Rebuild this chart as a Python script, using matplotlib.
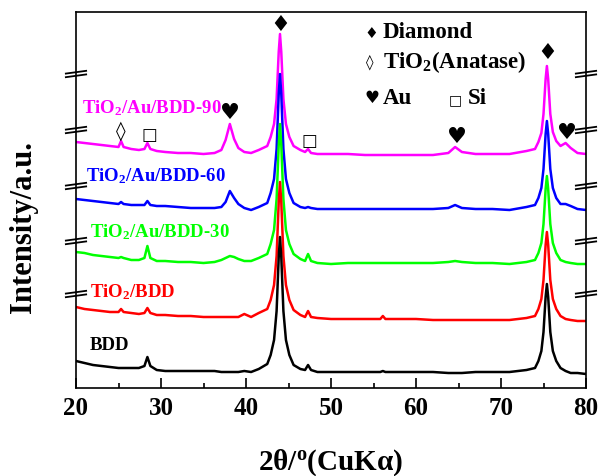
import matplotlib
matplotlib.use('Agg')
import matplotlib.pyplot as plt
from matplotlib.ticker import MultipleLocator

plt.rcParams['font.family'] = ['Liberation Serif', 'DejaVu Sans']
plt.rcParams['font.weight'] = 'bold'
plt.rcParams['mathtext.fontset'] = 'custom'
plt.rcParams['mathtext.rm'] = 'Liberation Serif:bold'
plt.rcParams['mathtext.bf'] = 'Liberation Serif:bold'
plt.rcParams['mathtext.it'] = 'Liberation Serif:italic:bold'
plt.rcParams['mathtext.default'] = 'bf'

# ---------------- data ----------------
two_theta = [20, 21, 22, 23, 24, 25.0, 25.3, 25.6, 26.5, 27.4,
             28.05, 28.4, 28.75, 29.5, 30.5, 32, 33.5, 35, 36.3, 37.1,
             37.6, 38.1, 38.6, 39.1, 39.8, 40.6, 41.5, 42.5, 42.9, 43.3,
             43.6, 43.85, 44.0, 44.15, 44.4, 44.7, 45.1, 45.6, 46.4, 46.95,
             47.3, 47.65, 48.4, 50, 52, 54, 55.8, 56.1, 56.4, 58,
             60, 62, 63.8, 64.6, 65.4, 67, 69, 71, 73.0, 74.0,
             74.4, 74.75, 75.0, 75.25, 75.4, 75.55, 75.8, 76.1, 76.5, 77.0,
             77.6, 78.2, 79, 80]

bdd = [27, 25, 23, 22, 21, 20, 20, 20, 20, 20,
       22, 31, 22, 18, 17, 17, 17, 17, 17, 16,
       16, 16, 16, 16, 17, 16, 19, 24, 33, 48,
       77, 131, 151, 131, 77, 48, 33, 23, 19, 18,
       23, 18, 16, 16, 16, 16, 16, 17, 16, 16,
       16, 16, 15, 15, 15, 16, 16, 16, 18, 20,
       27, 37, 56, 91, 104, 91, 56, 37, 27, 20,
       17, 15, 15, 14]

tio2_bdd = [81, 79, 78, 77, 76, 76, 79, 76, 75, 74,
            75, 80, 75, 73, 73, 72, 72, 71, 71, 71,
            71, 71, 71, 71, 74, 71, 75, 79, 88, 103,
            132, 186, 206, 186, 132, 103, 88, 78, 73, 71,
            77, 71, 70, 69, 69, 69, 69, 72, 69, 69,
            69, 68, 68, 68, 68, 68, 68, 68, 70, 72,
            79, 89, 108, 143, 156, 143, 108, 89, 79, 72,
            69, 68, 67, 67]

au_bdd_30 = [136, 135, 133, 132, 131, 130, 131, 130, 128, 128,
             130, 142, 130, 127, 127, 126, 126, 125, 126, 128,
             130, 132, 131, 129, 127, 127, 130, 134, 144, 158,
             189, 243, 264, 243, 189, 158, 144, 134, 129, 127,
             134, 127, 125, 124, 125, 125, 125, 125, 125, 125,
             125, 125, 126, 127, 126, 125, 125, 124, 126, 128,
             135, 145, 164, 199, 212, 199, 164, 145, 135, 128,
             126, 125, 124, 124]

au_bdd_60 = [189, 188, 187, 186, 185, 184, 186, 184, 183, 183,
             183, 187, 183, 182, 182, 181, 180, 180, 180, 181,
             186, 197, 190, 184, 180, 178, 181, 185, 195, 209,
             239, 294, 314, 294, 239, 209, 195, 185, 181, 180,
             181, 180, 179, 179, 179, 179, 179, 179, 179, 179,
             179, 179, 180, 183, 180, 179, 179, 178, 181, 183,
             190, 200, 219, 254, 267, 254, 219, 200, 190, 184,
             184, 182, 179, 178]

au_bdd_90 = [246, 245, 244, 243, 242, 241, 247, 241, 239, 238,
             239, 245, 239, 237, 236, 235, 235, 234, 235, 238,
             248, 264, 249, 240, 236, 235, 238, 242, 251, 264,
             289, 336, 354, 336, 289, 264, 251, 242, 238, 236,
             239, 235, 234, 234, 234, 233, 233, 233, 233, 233,
             233, 233, 235, 241, 236, 234, 234, 234, 237, 239,
             246, 255, 274, 309, 322, 309, 274, 256, 247, 242,
             245, 240, 235, 234]

series_labels = ['TiO$_2$/Au/BDD-90', 'TiO$_2$/Au/BDD-60',
                 'TiO$_2$/Au/BDD-30', 'TiO$_2$/BDD', 'BDD']
series_values = [au_bdd_90, au_bdd_60, au_bdd_30, tio2_bdd, bdd]
series_colors = ['#FF00FF', '#0000FF', '#00FF00', '#FF0000', '#000000']
label_pos = [(20.7, 281), (21.2, 213), (21.65, 157), (21.65, 97), (21.65, 44)]

break_levels = [94, 147, 202, 258, 314]

x_ticks = [20, 30, 40, 50, 60, 70, 80]

# peak symbols: (glyph, x, y, fontsize)
peak_marks = [('\u2666', 44.0, 364, 16), ('\u2666', 75.4, 336, 16),
              ('\u25CA', 25.3, 258, 14), ('\u25A1', 28.6, 254, 12),
              ('\u2665', 38.1, 276, 16), ('\u25A1', 47.5, 248, 12),
              ('\u2665', 64.8, 252, 16), ('\u2665', 77.8, 256, 16)]

legend_marks = [('\u2666', 54.7, 356, 11), ('\u25CA', 54.6, 327, 11),
                ('\u2665', 54.8, 291, 12), ('\u25A1', 64.6, 289, 10)]
legend_texts = [('Diamond', 56.1, 356), ('TiO$_2$(Anatase)', 56.1, 327),
                ('Au', 56.1, 291), ('Si', 66.1, 291)]

# ---------------- figure ----------------
fig = plt.figure(figsize=(6, 4.77), dpi=100)
ax = fig.add_axes([76 / 600, 88 / 477, 510 / 600, 376 / 477])

for vals, col in zip(series_values, series_colors):
    ax.plot(two_theta, vals, color=col, lw=1.8, zorder=2)

for (lab, col, (lx, ly)) in zip(series_labels, series_colors, label_pos):
    ax.text(lx, ly, lab, color=col, fontsize=13.5, fontweight='bold',
            ha='left', va='center')

for g, mx, my, fs in peak_marks:
    ax.text(mx, my, g, family='DejaVu Sans', fontsize=fs, ha='center',
            va='center', color='black', zorder=4)

for g, mx, my, fs in legend_marks:
    ax.text(mx, my, g, family='DejaVu Sans', fontsize=fs, ha='center',
            va='center', color='black')
for t, tx, ty in legend_texts:
    ax.text(tx, ty, t, fontsize=16.5, fontweight='bold', ha='left',
            va='center', color='black')

# axis break marks on both spines
for h in break_levels:
    for x0 in (20, 80):
        for dy in (-1.8, 1.8):
            ax.plot([x0 - 1.3, x0 + 1.3], [h + dy - 1.5, h + dy + 1.5],
                    color='black', lw=1.3, clip_on=False,
                    solid_capstyle='butt', zorder=5)

ax.set_xlim(20, 80)
ax.set_ylim(0, 376)
ax.set_xticks(x_ticks)
ax.xaxis.set_minor_locator(MultipleLocator(5))
ax.set_yticks([])
ax.tick_params(axis='x', which='major', direction='in', length=7, width=1.2,
               labelsize=18, pad=6, top=False)
ax.tick_params(axis='x', which='minor', direction='in', length=3.5,
               width=1.2, top=False)
for lab in ax.get_xticklabels():
    lab.set_fontweight('bold')
for sp in ax.spines.values():
    sp.set_linewidth(1.2)

ax.set_xlabel('2\u03b8/$^{o}$(CuK\u03b1)', fontsize=21, fontweight='bold')
ax.xaxis.set_label_coords(0.5, -0.155)
ax.xaxis.label.set_va('top')
ax.set_ylabel('Intensity/a.u.', fontsize=22, fontweight='bold')
ax.yaxis.set_label_coords(-0.075, 0.431)

fig.savefig('out.png', dpi=100)
